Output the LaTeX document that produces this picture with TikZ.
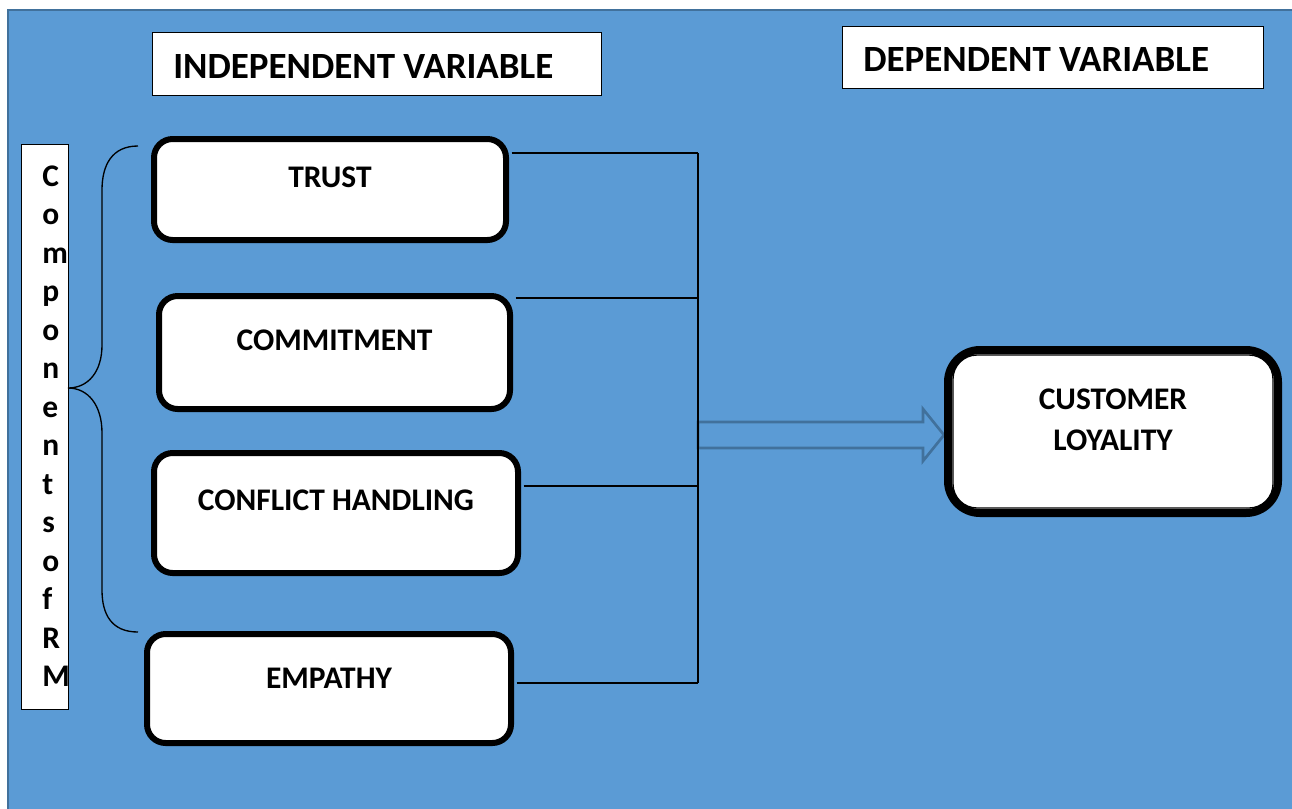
\documentclass[tikz,border=0pt]{standalone}
\usepackage{fontspec}
\setmainfont{Carlito}
\usetikzlibrary{calc}
\definecolor{bgblue}{HTML}{5B9BD5}
\definecolor{edgeblue}{HTML}{41719C}
\begin{document}
\begin{tikzpicture}[x=0.75pt,y=-0.75pt,
  varbox/.style={draw=black, line width=4.5pt, fill=white, rounded corners=14pt, inner sep=0pt},
  boxtext/.style={font=\fontsize{23.6}{28}\selectfont\bfseries, inner sep=0pt},
  hdrbox/.style={draw=black, line width=1.1pt, fill=white, inner sep=0pt, anchor=north west},
  hdrtext/.style={font=\fontsize{27.75}{32}\selectfont\bfseries, inner sep=0pt, anchor=west},
  link/.style={draw=black, line width=0.9pt}
]
\useasboundingbox (0,0) rectangle (1292,808);

% page background
\begin{scope}
  \clip (0,0) rectangle (1292,808);
  \fill[bgblue] (8,10) rectangle (1320,830);
  \draw[edgeblue, line width=1.5pt] (1320,10) -- (8,10) -- (8,830);
\end{scope}

% headings
\node[hdrbox, minimum width=336.75pt, minimum height=47.25pt] (ivbox) at (152,32) {};
\node[hdrtext] (ivtext) at (173,66) {INDEPENDENT VARIABLE};
\node[hdrbox, minimum width=315.75pt, minimum height=46.5pt] (dvbox) at (842,26) {};
\node[hdrtext] (dvtext) at (863,59) {DEPENDENT VARIABLE};

% vertical caption
\node[hdrbox, minimum width=35.25pt, minimum height=423.75pt] (cmbox) at (21,144) {};
\foreach \ch [count=\i from 0] in {C,o,m,p,o,n,e,n,t,s,o,f,R,M}
  \node[boxtext, anchor=base west] (cm\i) at (42,{186+38.5*\i}) {\ch};

% brace
\draw[black, line width=1pt] (138,146) .. controls (112,146) and (102,165) .. (102,190)
  -- (102,345) .. controls (102,372) and (88,388) .. (68,388)
  .. controls (88,388) and (102,405) .. (102,433)
  -- (102,590) .. controls (102,615) and (112,632) .. (138,632);

% junctions on the collecting line
\coordinate (j1) at (698,153);
\coordinate (j2) at (698,298);
\coordinate (j3) at (698,486);
\coordinate (j4) at (698,683);

% block arrow towards the outcome
\draw[edgeblue, line width=2pt, fill=bgblue, line join=miter]
  (698,422) -- (923,422) -- (923,409) -- (944,435) -- (923,461) -- (923,448) -- (698,448) -- cycle;

% component boxes
\node[varbox, minimum width=264pt, minimum height=75.75pt] (trust) at (330,189.5) {};
\node[varbox, minimum width=263.25pt, minimum height=84.75pt] (commit) at (334.5,352.5) {};
\node[varbox, minimum width=273pt, minimum height=90pt] (conflict) at (336,513) {};
\node[varbox, minimum width=273pt, minimum height=81.75pt] (empathy) at (329,688.5) {};

\node[boxtext] (trusttext) at ([yshift=9pt]trust.center) {TRUST};
\node[boxtext] (committext) at ([yshift=9pt]commit.center) {COMMITMENT};
\node[boxtext] (conflicttext) at ([yshift=9.5pt]conflict.center) {CONFLICT HANDLING};
\node[boxtext] (empathytext) at ([yshift=8pt]empathy.center) {EMPATHY};

% connectors
\draw[link] ([xshift=2pt]j1 -| trust.east) -- (j1);
\draw[link] ([xshift=2pt]j2 -| commit.east) -- (j2);
\draw[link] ([xshift=2pt]j3 -| conflict.east) -- (j3);
\draw[link] ([xshift=2pt]j4 -| empathy.east) -- (j4);
\draw[link] (j1) -- (j4);

% outcome box: heavy outer frame with a thin inner rule
\node[varbox, line width=6pt, rounded corners=24pt,
      minimum width=247.5pt, minimum height=122.25pt] (loyal) at (1113,431.5) {};
\draw[black, line width=1pt, rounded corners=18pt]
  ([shift={(9,9)}]loyal.north west) rectangle ([shift={(-9,-9)}]loyal.south east);
\node[boxtext, align=center, font=\fontsize{23.6}{30.75}\selectfont\bfseries] (loyaltext)
  at ([yshift=9pt]loyal.center) {CUSTOMER\\LOYALITY};
\end{tikzpicture}
\end{document}
